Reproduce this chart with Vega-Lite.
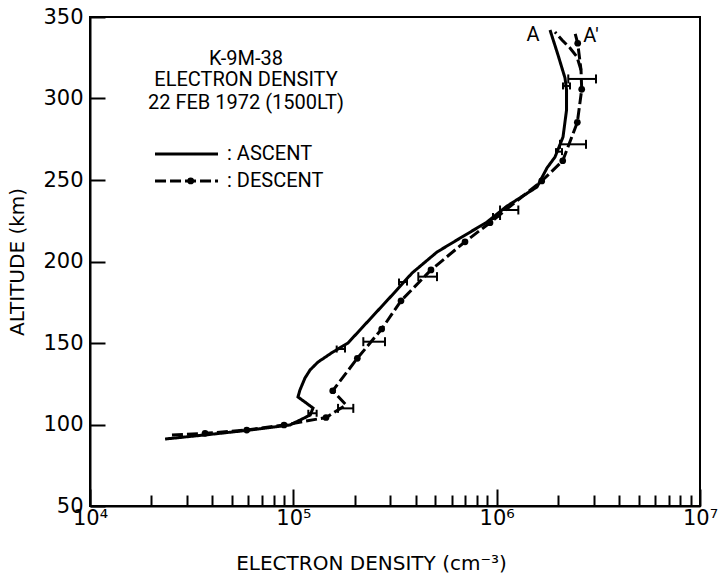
{
  "$schema": "https://vega.github.io/schema/vega-lite/v6.json",
  "width": 610,
  "height": 489,
  "autosize": {"type": "none"},
  "padding": {"left": 90, "top": 17, "right": 20, "bottom": 68},
  "background": "white",
  "datasets": {
    "profiles": [
      {"series": "ASCENT", "branch": "asc", "i": 1, "density": 23400, "altitude": 91.1},
      {"series": "ASCENT", "branch": "asc", "i": 2, "density": 38900, "altitude": 93.9},
      {"series": "ASCENT", "branch": "asc", "i": 3, "density": 61200, "altitude": 96.6},
      {"series": "ASCENT", "branch": "asc", "i": 4, "density": 96300, "altitude": 99.7},
      {"series": "ASCENT", "branch": "asc", "i": 5, "density": 121000, "altitude": 105.8},
      {"series": "ASCENT", "branch": "asc", "i": 6, "density": 125000, "altitude": 110.1},
      {"series": "ASCENT", "branch": "asc", "i": 7, "density": 105400, "altitude": 116.9},
      {"series": "ASCENT", "branch": "asc", "i": 8, "density": 107800, "altitude": 121.2},
      {"series": "ASCENT", "branch": "asc", "i": 9, "density": 114100, "altitude": 128.5},
      {"series": "ASCENT", "branch": "asc", "i": 10, "density": 120800, "altitude": 133.4},
      {"series": "ASCENT", "branch": "asc", "i": 11, "density": 132200, "altitude": 138.3},
      {"series": "ASCENT", "branch": "asc", "i": 12, "density": 156700, "altitude": 144.5},
      {"series": "ASCENT", "branch": "asc", "i": 13, "density": 185700, "altitude": 150.0},
      {"series": "ASCENT", "branch": "asc", "i": 14, "density": 316200, "altitude": 181.3},
      {"series": "ASCENT", "branch": "asc", "i": 15, "density": 383400, "altitude": 192.9},
      {"series": "ASCENT", "branch": "asc", "i": 16, "density": 508800, "altitude": 205.8},
      {"series": "ASCENT", "branch": "asc", "i": 17, "density": 638000, "altitude": 213.2},
      {"series": "ASCENT", "branch": "asc", "i": 18, "density": 896600, "altitude": 224.2},
      {"series": "ASCENT", "branch": "asc", "i": 19, "density": 1124000, "altitude": 234.0},
      {"series": "ASCENT", "branch": "asc", "i": 20, "density": 1579000, "altitude": 245.7},
      {"series": "ASCENT", "branch": "asc", "i": 21, "density": 1768000, "altitude": 257.4},
      {"series": "ASCENT", "branch": "asc", "i": 22, "density": 1936000, "altitude": 264.1},
      {"series": "ASCENT", "branch": "asc", "i": 23, "density": 2120000, "altitude": 276.4},
      {"series": "ASCENT", "branch": "asc", "i": 24, "density": 2206000, "altitude": 292.9},
      {"series": "ASCENT", "branch": "asc", "i": 25, "density": 2206000, "altitude": 305.2},
      {"series": "ASCENT", "branch": "asc", "i": 26, "density": 2168000, "altitude": 312.6},
      {"series": "ASCENT", "branch": "asc", "i": 27, "density": 2003000, "altitude": 326.7},
      {"series": "ASCENT", "branch": "asc", "i": 28, "density": 1830000, "altitude": 342.0},
      {"series": "DESCENT", "branch": "main", "i": 1, "density": 25300, "altitude": 93.6},
      {"series": "DESCENT", "branch": "main", "i": 2, "density": 36800, "altitude": 94.6},
      {"series": "DESCENT", "branch": "main", "i": 3, "density": 59000, "altitude": 96.6},
      {"series": "DESCENT", "branch": "main", "i": 4, "density": 90000, "altitude": 99.7},
      {"series": "DESCENT", "branch": "main", "i": 5, "density": 144800, "altitude": 104.3},
      {"series": "DESCENT", "branch": "main", "i": 6, "density": 181600, "altitude": 112.0},
      {"series": "DESCENT", "branch": "main", "i": 7, "density": 156200, "altitude": 120.7},
      {"series": "DESCENT", "branch": "main", "i": 8, "density": 206400, "altitude": 140.6},
      {"series": "DESCENT", "branch": "main", "i": 9, "density": 272000, "altitude": 158.6},
      {"series": "DESCENT", "branch": "main", "i": 10, "density": 338500, "altitude": 175.9},
      {"series": "DESCENT", "branch": "main", "i": 11, "density": 475300, "altitude": 194.8},
      {"series": "DESCENT", "branch": "main", "i": 12, "density": 698800, "altitude": 212.1},
      {"series": "DESCENT", "branch": "main", "i": 13, "density": 927300, "altitude": 223.8},
      {"series": "DESCENT", "branch": "main", "i": 14, "density": 1666000, "altitude": 249.4},
      {"series": "DESCENT", "branch": "main", "i": 15, "density": 2113000, "altitude": 261.8},
      {"series": "DESCENT", "branch": "main", "i": 16, "density": 2493000, "altitude": 285.4},
      {"series": "DESCENT", "branch": "main", "i": 17, "density": 2620000, "altitude": 305.6},
      {"series": "DESCENT", "branch": "main", "i": 18, "density": 2599000, "altitude": 317.5},
      {"series": "DESCENT", "branch": "main", "i": 19, "density": 2504000, "altitude": 333.9},
      {"series": "DESCENT", "branch": "main", "i": 20, "density": 2428000, "altitude": 340.2},
      {"series": "DESCENT", "branch": "toA", "i": 1, "density": 2599000, "altitude": 317.5},
      {"series": "DESCENT", "branch": "toA", "i": 2, "density": 2485000, "altitude": 325.5},
      {"series": "DESCENT", "branch": "toA", "i": 3, "density": 2295000, "altitude": 331.0},
      {"series": "DESCENT", "branch": "toA", "i": 4, "density": 2096000, "altitude": 335.9},
      {"series": "DESCENT", "branch": "toA", "i": 5, "density": 1936000, "altitude": 340.8}
    ],
    "descent_points": [
      {"density": 36800, "altitude": 94.6},
      {"density": 59000, "altitude": 96.6},
      {"density": 90000, "altitude": 99.7},
      {"density": 144800, "altitude": 104.3},
      {"density": 156200, "altitude": 120.7},
      {"density": 206400, "altitude": 140.6},
      {"density": 272000, "altitude": 158.6},
      {"density": 338500, "altitude": 175.9},
      {"density": 475300, "altitude": 194.8},
      {"density": 698800, "altitude": 212.1},
      {"density": 927300, "altitude": 223.8},
      {"density": 1666000, "altitude": 249.4},
      {"density": 2113000, "altitude": 261.8},
      {"density": 2493000, "altitude": 285.4},
      {"density": 2620000, "altitude": 305.6},
      {"density": 2504000, "altitude": 333.9}
    ],
    "errorbars": [
      {"series": "DESCENT", "altitude": 109.9, "density": 165900, "density_hi": 197200},
      {"series": "DESCENT", "altitude": 150.8, "density": 220900, "density_hi": 282300},
      {"series": "DESCENT", "altitude": 190.7, "density": 411800, "density_hi": 508800},
      {"series": "DESCENT", "altitude": 231.6, "density": 1039000, "density_hi": 1278000},
      {"series": "DESCENT", "altitude": 271.9, "density": 2049000, "density_hi": 2750000},
      {"series": "DESCENT", "altitude": 312.0, "density": 2250000, "density_hi": 3079000},
      {"series": "ASCENT", "altitude": 106.9, "density": 118500, "density_hi": 130200},
      {"series": "ASCENT", "altitude": 146.3, "density": 163400, "density_hi": 179500},
      {"series": "ASCENT", "altitude": 187.4, "density": 330900, "density_hi": 362300},
      {"series": "ASCENT", "altitude": 227.6, "density": 959400, "density_hi": 1039000},
      {"series": "ASCENT", "altitude": 267.4, "density": 1958000, "density_hi": 2096000},
      {"series": "ASCENT", "altitude": 307.7, "density": 2120000, "density_hi": 2295000}
    ],
    "annotations": [
      {"label": "A", "density": 1509000, "altitude": 339.0},
      {"label": "A′", "density": 2911000, "altitude": 338.3},
      {"label": "K-9M-38", "density": 58500, "altitude": 324.2},
      {"label": "ELECTRON DENSITY", "density": 58500, "altitude": 311.5},
      {"label": "22 FEB 1972 (1500LT)", "density": 58500, "altitude": 297.5}
    ],
    "legend_lines": [
      {"series": "ASCENT", "i": 1, "density": 20880, "altitude": 266.0},
      {"series": "ASCENT", "i": 2, "density": 42620, "altitude": 266.0},
      {"series": "DESCENT", "i": 1, "density": 20880, "altitude": 249.4},
      {"series": "DESCENT", "i": 2, "density": 42620, "altitude": 249.4}
    ],
    "legend_points": [
      {"series": "DESCENT", "density": 31280, "altitude": 249.4}
    ],
    "legend_labels": [
      {"label": ": ASCENT", "density": 47200, "altitude": 266.0},
      {"label": ": DESCENT", "density": 47200, "altitude": 249.4}
    ]
  },
  "encoding": {
    "x": {
      "field": "density", "type": "quantitative",
      "scale": {"type": "log", "domain": [10000, 10000000], "nice": false},
      "axis": {
        "title": "ELECTRON DENSITY (cm⁻³)",
        "values": [10000, 20000, 30000, 40000, 50000, 60000, 70000, 80000, 90000, 100000, 200000, 300000, 400000, 500000, 600000, 700000, 800000, 900000, 1000000, 2000000, 3000000, 4000000, 5000000, 6000000, 7000000, 8000000, 9000000, 10000000],
        "labelExpr": "datum.value == 10000 ? '10⁴' : datum.value == 100000 ? '10⁵' : datum.value == 1000000 ? '10⁶' : datum.value == 10000000 ? '10⁷' : ''",
        "tickSize": {"condition": {"test": "datum.value == 10000 || datum.value == 100000 || datum.value == 1000000 || datum.value == 10000000", "value": -17}, "value": -11},
        "labelPadding": 18,
        "titlePadding": 19,
        "titleX": 281
      }
    },
    "y": {
      "field": "altitude", "type": "quantitative",
      "scale": {"domain": [50, 350], "nice": false, "zero": false},
      "axis": {
        "title": "ALTITUDE (km)",
        "values": [50, 100, 150, 200, 250, 300, 350],
        "tickSize": -15,
        "labelPadding": 22,
        "titlePadding": 15
      }
    }
  },
  "layer": [
    {
      "data": {"name": "profiles"},
      "mark": {"type": "line", "color": "black", "strokeWidth": 3},
      "encoding": {
        "detail": {"field": "branch"},
        "order": {"field": "i"},
        "strokeDash": {
          "field": "series", "type": "nominal",
          "scale": {"domain": ["ASCENT", "DESCENT"], "range": [[1, 0], [11, 4]]},
          "legend": null
        }
      }
    },
    {
      "data": {"name": "descent_points"},
      "mark": {"type": "point", "filled": true, "color": "black", "size": 45, "opacity": 1}
    },
    {
      "data": {"name": "errorbars"},
      "mark": {"type": "rule", "color": "black", "strokeWidth": 2},
      "encoding": {
        "x2": {"field": "density_hi"}
      }
    },
    {
      "data": {"name": "errorbars"},
      "transform": [{"fold": ["density", "density_hi"], "as": ["end", "density"]}],
      "mark": {"type": "tick", "orient": "vertical", "color": "black", "thickness": 2, "opacity": 1},
      "encoding": {
        "size": {"field": "series", "type": "ordinal", "scale": {"domain": ["ASCENT", "DESCENT"], "range": [7, 9]}, "legend": null}
      }
    },
    {
      "data": {"name": "legend_lines"},
      "mark": {"type": "line", "color": "black", "strokeWidth": 3},
      "encoding": {
        "detail": {"field": "series"},
        "order": {"field": "i"},
        "strokeDash": {"field": "series", "type": "nominal", "legend": null}
      }
    },
    {
      "data": {"name": "legend_points"},
      "mark": {"type": "point", "filled": true, "color": "black", "size": 45, "opacity": 1}
    },
    {
      "data": {"name": "legend_labels"},
      "mark": {"type": "text", "align": "left", "baseline": "middle", "font": "Roboto", "fontSize": 20, "color": "black"},
      "encoding": {
        "text": {"field": "label"}
      }
    },
    {
      "data": {"name": "annotations"},
      "mark": {"type": "text", "align": "center", "baseline": "middle", "font": "Roboto", "fontSize": 20, "color": "black"},
      "encoding": {
        "text": {"field": "label"}
      }
    }
  ],
  "config": {
    "view": {"stroke": "black", "strokeWidth": 2},
    "axis": {
      "domainColor": "black",
      "domainWidth": 2,
      "tickColor": "black",
      "tickWidth": 2,
      "grid": false,
      "labelFont": "DejaVu Sans",
      "labelFontSize": 21,
      "labelColor": "black",
      "labelFlush": false,
      "labelOverlap": false,
      "labelBound": false,
      "titleFont": "DejaVu Sans",
      "titleFontSize": 20,
      "titleFontWeight": "normal",
      "titleColor": "black"
    }
  }
}
